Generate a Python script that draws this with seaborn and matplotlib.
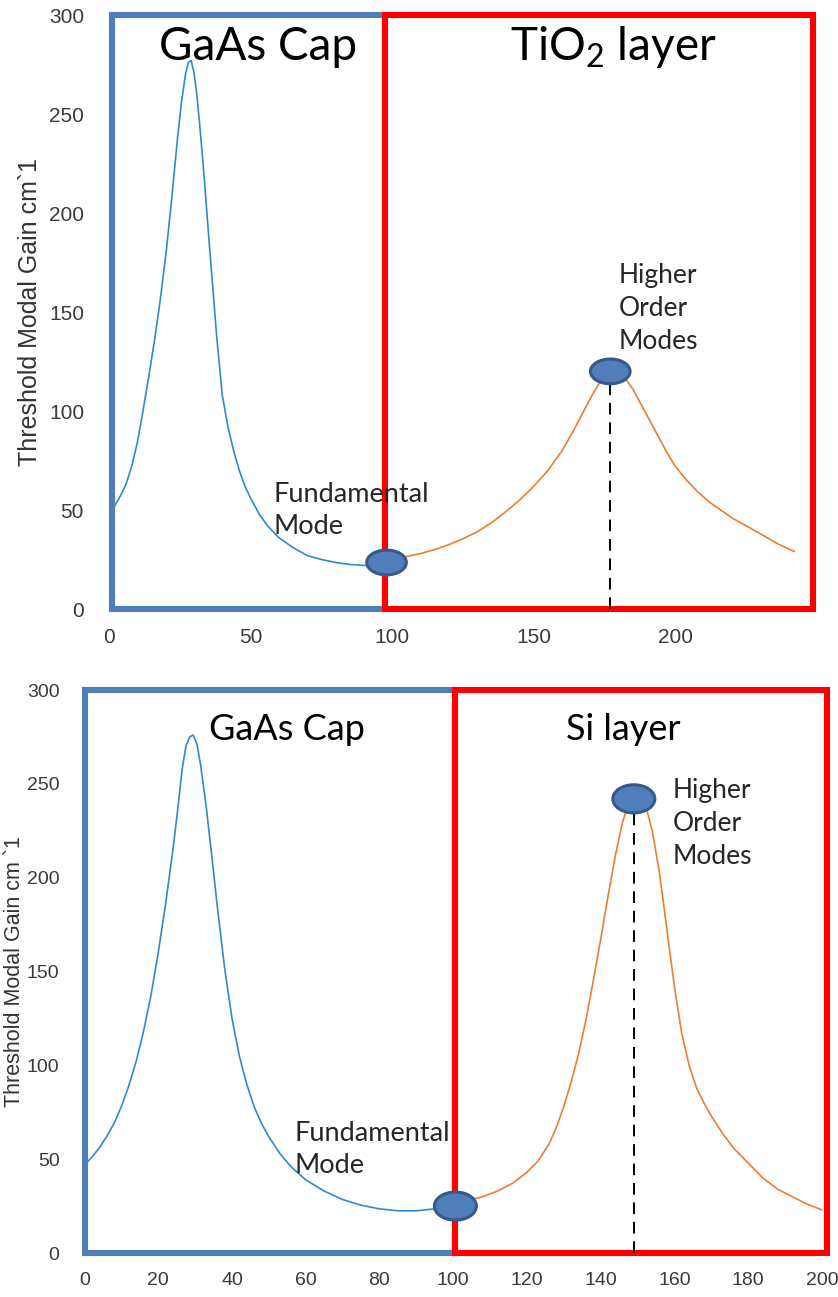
import numpy as np
import pandas as pd
import matplotlib
matplotlib.use("Agg")
import matplotlib.pyplot as plt
import seaborn as sns
from matplotlib.patches import Rectangle, Ellipse

# ---------------- data ----------------
# top panel: GaAs cap / TiO2 layer
top_gaas_x = [0, 2, 4, 6, 8, 10, 12, 14, 16, 18, 20, 22, 24, 25.5, 27, 28, 29, 30, 31, 32, 33.5, 35,
              36.5, 38, 40, 42, 44, 46, 48, 50, 53, 56, 60, 65, 70, 75, 80, 85, 90, 95, 98]
top_gaas_y = [48, 52, 57, 63, 72, 84, 100, 117, 135, 155, 178, 205, 235, 255, 270, 276, 277, 271, 260,
              245, 220, 192, 165, 138, 108, 92, 80, 70, 62, 56, 48, 42, 36, 31, 27, 25, 23.5, 22.5, 22,
              22.5, 23.5]
top_layer_x = [100, 105, 110, 115, 120, 125, 130, 135, 140, 145, 150, 155, 160, 164, 168, 171, 174, 176,
               178, 180, 182, 185, 188, 191, 194, 197, 200, 204, 208, 212, 216, 220, 225, 230, 236, 242]
top_layer_y = [25, 26.5, 28, 30, 32.5, 35.5, 39, 43.5, 49, 55, 62, 70, 80, 90, 101, 109, 116, 119, 121,
               120, 117, 111, 103, 95, 87, 79, 72, 65, 59, 54, 50, 46, 42, 38, 33, 29]
top_mode_x = [98, 177]
top_mode_y = [23.5, 120]
top_regions = [(1, 97.5), (97.5, 248.7)]
top_xticks = [0, 50, 100, 150, 200]

# bottom panel: GaAs cap / Si layer
bot_gaas_x = [0, 2, 4, 6, 8, 10, 12, 14, 16, 18, 20, 22, 24, 25.5, 26.5, 27.5, 28.5, 29.5, 30.5, 31.5,
              33, 34.5, 36, 38, 40, 42, 44, 46, 48, 50, 53, 56, 60, 65, 70, 75, 80, 85, 90, 95, 100]
bot_gaas_y = [47, 51, 56, 62, 69, 78, 89, 102, 118, 137, 160, 186, 215, 240, 258, 270, 275, 276, 271,
              260, 238, 212, 185, 152, 125, 105, 90, 78, 69, 62, 53, 46, 39, 33, 28.5, 25.5, 23.5, 22.5,
              22.5, 23.5, 25]
bot_layer_x = [101, 104, 108, 112, 116, 120, 123, 126, 128, 130, 132, 134, 136, 138, 140, 142, 144, 146,
               148, 150, 152, 154, 156, 158, 160, 162, 164, 166, 168, 170, 173, 176, 180, 184, 188, 192,
               196, 200]
bot_layer_y = [27, 28, 30, 33, 37, 43, 49, 58, 67, 78, 91, 106, 124, 145, 167, 190, 212, 230, 242, 246,
               240, 225, 202, 172, 142, 117, 100, 88, 80, 73, 64, 56, 48, 40, 34, 30, 26, 23]
bot_mode_x = [100.6, 149]
bot_mode_y = [25, 242]
bot_regions = [(0.2, 100.6), (100.6, 201.4)]
bot_xticks = [0, 20, 40, 60, 80, 100, 120, 140, 160, 180, 200]

yticks = [0, 50, 100, 150, 200, 250, 300]

# ---------------- style ----------------
sns.set_style("white")
plt.rcParams["font.family"] = ["Lato", "DejaVu Sans"]
plt.rcParams["mathtext.fontset"] = "custom"
plt.rcParams["mathtext.rm"] = "Lato"
plt.rcParams["mathtext.it"] = "Lato:italic"
plt.rcParams["mathtext.bf"] = "Lato:bold"

BOX_BLUE = "#4F7EBB"
BOX_RED = "#FF0000"
LINE_BLUE = "#2E8BD0"
LINE_ORANGE = "#ED7D31"
ELL_FACE = "#4F7EBB"
ELL_EDGE = "#36598A"
TICK_COLOR = "#3A3A3A"
TICK_FONT = ["Liberation Sans", "DejaVu Sans"]

W, H = 838, 1297
fig = plt.figure(figsize=(W / 100, H / 100), dpi=100)


def px_axes(left, right, top, bottom):
    return fig.add_axes([left / W, 1 - bottom / H, (right - left) / W, (bottom - top) / H])


def draw_panel(ax, gx, gy, lx, ly, mx, my, regions, xticks, xlim, ell_w, ell_h,
               tick_size, ylabel, ylabel_size, ylabel_x, titles, title_size, title_y):
    sns.lineplot(x=gx, y=gy, ax=ax, color=LINE_BLUE, linewidth=1.2, sort=False)
    sns.lineplot(x=lx, y=ly, ax=ax, color=LINE_ORANGE, linewidth=1.2, sort=False)
    ax.set_xlim(*xlim)
    ax.set_ylim(0, 300)
    for s in ax.spines.values():
        s.set_visible(False)
    for (x0, x1), col in zip(regions, [BOX_BLUE, BOX_RED]):
        ax.add_patch(Rectangle((x0, 0), x1 - x0, 300, fill=False, edgecolor=col,
                               linewidth=4.4, clip_on=False, zorder=3, joinstyle="miter"))
    ax.vlines(mx[1], 0, my[1], colors="black", linestyles=(0, (6, 4)), linewidth=1.4, zorder=4)
    for x, y in zip(mx, my):
        ax.add_patch(Ellipse((x, y), ell_w, ell_h, facecolor=ELL_FACE, edgecolor=ELL_EDGE,
                             linewidth=2.2, zorder=6, clip_on=False))
    ax.set_xticks(xticks)
    ax.set_yticks(yticks)
    ax.tick_params(axis="both", direction="in", length=3, width=1, color="#888888",
                   labelsize=tick_size, labelcolor=TICK_COLOR, pad=14)
    ax.tick_params(axis="y", pad=18)
    for lab in ax.get_xticklabels() + ax.get_yticklabels():
        lab.set_fontfamily(TICK_FONT)
    ax.set_xlabel("")
    ax.set_ylabel(ylabel, fontsize=ylabel_size, color="#333333",
                  family=["Liberation Sans Narrow", "Liberation Sans"])
    ax.yaxis.set_label_coords(ylabel_x, 0.5)
    for (tx, txt) in titles:
        ax.text(tx, title_y, txt, fontsize=title_size, ha="center", va="center", color="black", zorder=7)


# ---------------- top panel ----------------
ax1 = px_axes(109, 817, 15, 609)
draw_panel(ax1, top_gaas_x, top_gaas_y, top_layer_x, top_layer_y, top_mode_x, top_mode_y,
           top_regions, top_xticks, (0, 250), 14.0, 12.5, 15,
           "Threshold Modal Gain cm`1", 18, -0.095,
           [(52.5, "GaAs Cap"), (178, r"TiO$_\mathregular{2}$ layer")], 33, 284)
ax1.text(58, 50, "Fundamental\nMode", fontsize=19.5, ha="left", va="center", linespacing=1.35, zorder=7)
ax1.text(180, 152, "Higher\nOrder\nModes", fontsize=19, ha="left", va="center", linespacing=1.4, zorder=7)

# ---------------- bottom panel ----------------
ax2 = px_axes(84.5, 827, 690, 1253)
draw_panel(ax2, bot_gaas_x, bot_gaas_y, bot_layer_x, bot_layer_y, bot_mode_x, bot_mode_y,
           bot_regions, bot_xticks, (0, 201.4), 11.4, 15.0, 14,
           "Threshold Modal Gain cm `1", 15.5, -0.080,
           [(55, "GaAs Cap"), (146, "Si layer")], 26, 279)
ax2.text(57, 55, "Fundamental\nMode", fontsize=19.5, ha="left", va="center", linespacing=1.35, zorder=7)
ax2.text(159.5, 229, "Higher\nOrder\nModes", fontsize=19, ha="left", va="center", linespacing=1.4, zorder=7)

fig.savefig("out.png", dpi=100)
